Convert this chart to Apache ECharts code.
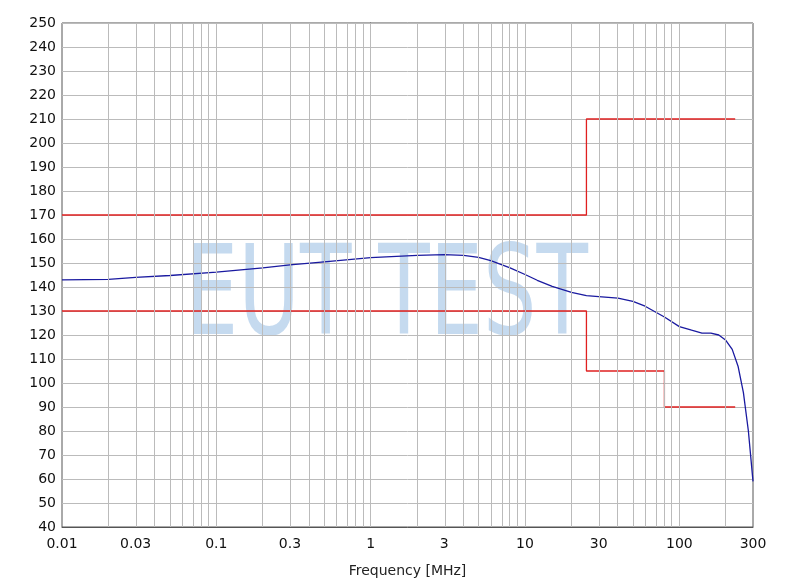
<!DOCTYPE html>
<html><head><meta charset="utf-8">
<script src="https://cdn.jsdelivr.net/npm/echarts@6/dist/echarts.min.js"></script>
<style>html,body{margin:0;padding:0;background:#fff}#c{width:785px;height:588px}</style>
</head><body><div id="c"></div>
<script>
const xTicks=[0.01,0.03,0.1,0.3,1,3,10,30,100,300];
const blueF=[0.01,0.02,0.03,0.05,0.1,0.2,0.3,0.5,1,2,3,4,5,6,8,10,12,15,20,25,30,40,50,60,80,100,120,140,160,180,200,220,240,260,280,300];
const blueV=[143,143.2,144,144.8,146.2,148,149.2,150.5,152.2,153.2,153.5,153.2,152.3,151,148,145.2,142.8,140.3,137.8,136.4,136,135.4,134,132,127.5,123.5,122,120.8,120.8,120,117.8,114,107,96,80,59];
const upperF=[0.01,25,25,230];
const upperV=[170,170,210,210];
const lowerF=[0.01,25,25,80,80,230];
const lowerV=[130,130,105,105,90,90];
const L=Math.log10;
const gridVals=[];
for(let e=-2;e<=2;e++)for(let k=1;k<=9;k++){const v=k*Math.pow(10,e);if(v>0.01&&v<300)gridVals.push({xAxis:L(v)});}
const toPts=(f,v)=>f.map((x,i)=>[L(x),v[i]]);
const fmt=v=>{const x=Math.pow(10,v);return String(parseFloat(x.toPrecision(2)));};
const chart=echarts.init(document.getElementById('c'));
chart.setOption({
animation:false,
grid:{left:62,right:32,top:23,bottom:61},
xAxis:{type:'value',min:-2,max:L(300),name:'Frequency [MHz]',nameLocation:'middle',nameGap:37,
 nameTextStyle:{color:'#222',fontSize:14,fontFamily:'DejaVu Sans'},
 axisLine:{show:true,onZero:false,lineStyle:{color:'#555'}},axisTick:{show:false},splitLine:{show:false},
 axisLabel:{customValues:xTicks.map(L),formatter:fmt,color:'#111',fontSize:14,fontFamily:'DejaVu Sans',margin:10}},
yAxis:{type:'value',min:40,max:250,interval:10,
 axisLine:{show:true,lineStyle:{color:'#555'}},axisTick:{show:false},
 splitLine:{lineStyle:{color:'#bbbbbb'}},
 axisLabel:{color:'#111',fontSize:14,fontFamily:'DejaVu Sans',margin:6}},
graphic:[{type:'text',x:185,y:240,scaleX:0.68,z:-1,style:{text:'EUT TEST',font:'normal 124px "DejaVu Sans",sans-serif',fill:'rgba(90,150,210,0.35)'}},
 {type:'rect',shape:{x:62,y:23,width:691,height:504},style:{fill:'none',stroke:'#555',lineWidth:1}}],
series:[
{type:'line',data:[],markLine:{silent:true,symbol:'none',label:{show:false},lineStyle:{color:'#bbbbbb',type:'solid',width:1},data:gridVals}},
{type:'line',data:toPts(upperF,upperV),showSymbol:false,lineStyle:{color:'#e02020',width:1.3}},
{type:'line',data:toPts(lowerF,lowerV),showSymbol:false,lineStyle:{color:'#e02020',width:1.3}},
{type:'line',data:toPts(blueF,blueV),showSymbol:false,lineStyle:{color:'#1a1aa0',width:1.3}}
]});
</script></body></html>
